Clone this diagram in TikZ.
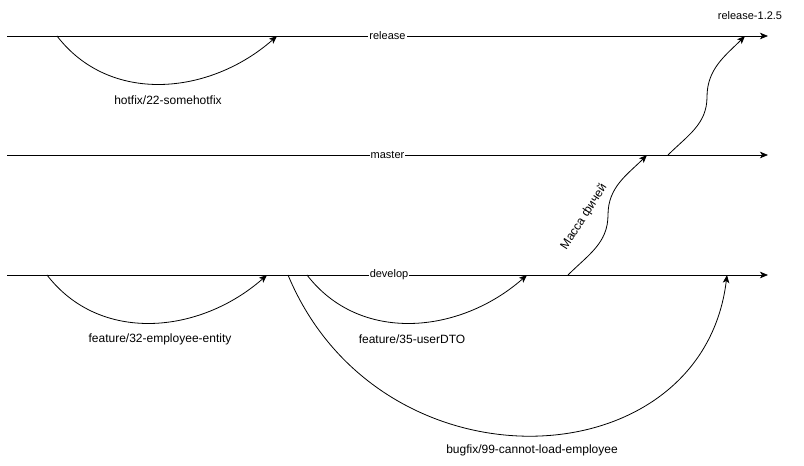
\documentclass[tikz,border=0pt]{standalone}
\usepackage{fontspec}
\setmainfont{Liberation Sans}
\usetikzlibrary{arrows.meta,positioning}

\begin{document}
\begin{tikzpicture}
[x=1pt,y=1pt,line width=0.8pt,>={Stealth[length=8pt,width=6.5pt,inset=2pt]}]
\tikzset{
	trunk/.style = {->},
	branch/.style = {->},
	trunklabel/.style = {fill = white, inner sep = 1, font = \fontsize{11}{13}\selectfont},
	branchlabel/.style = {font = \fontsize{12}{14}\selectfont}
}
\useasboundingbox (0,0) rectangle (804,466);

% main lines
\coordinate (rel-0) at (7,430);
\coordinate (rel-1) at (768,430);
\coordinate (mas-0) at (7,311);
\coordinate (mas-1) at (768,311);
\coordinate (dev-0) at (7,191);
\coordinate (dev-1) at (768,191);

\draw[trunk] (rel-0) -- (rel-1) node[pos=0.5,trunklabel] {release};
\draw[trunk] (mas-0) -- (mas-1) node[pos=0.5,trunklabel] {master};
\draw[trunk] (dev-0) -- (dev-1) node[pos=0.502,trunklabel] {develop};

\node[font=\fontsize{11}{13}\selectfont] (tag) at (750,450) {release-1.2.5};

% branch points
\coordinate (rel-a) at (57,430);
\coordinate (rel-b) at (277,430);
\coordinate (rel-c) at (745,430);
\coordinate (mas-a) at (647,311);
\coordinate (mas-b) at (668,311);
\coordinate (dev-a) at (47,191);
\coordinate (dev-b) at (267,191);
\coordinate (dev-c) at (288,191);
\coordinate (dev-d) at (307,191);
\coordinate (dev-e) at (527,191);
\coordinate (dev-f) at (568,191);
\coordinate (dev-g) at (727,191);

% hotfix and features
\draw[branch] (rel-a) .. controls (110,361) and (210,371) .. (rel-b);
\node[branchlabel] (hotfix) at (168,366) {hotfix/22-somehotfix};

\draw[branch] (dev-a) .. controls (100,122) and (200,132) .. (dev-b);
\node[branchlabel] (f32) at (160,127) {feature/32-employee-entity};

\draw[branch] (dev-d) .. controls (360,122) and (460,132) .. (dev-e);
\node[branchlabel] (f35) at (412,127) {feature/35-userDTO};

\draw[branch] (dev-c) .. controls (380,-30) and (702,-16) .. (dev-g);
\node[branchlabel] (bug99) at (532,16) {bugfix/99-cannot-load-employee};

% merges up
\draw[branch] (dev-f) to[out=45,in=-90] (608,251) to[out=90,in=225] (mas-a);
\node[branchlabel,rotate=57] (mass) at (584,249) {Масса фичей};

\draw[branch] (mas-b) to[out=45,in=-90] (707,369) to[out=90,in=225] (rel-c);

\end{tikzpicture}
\end{document}
